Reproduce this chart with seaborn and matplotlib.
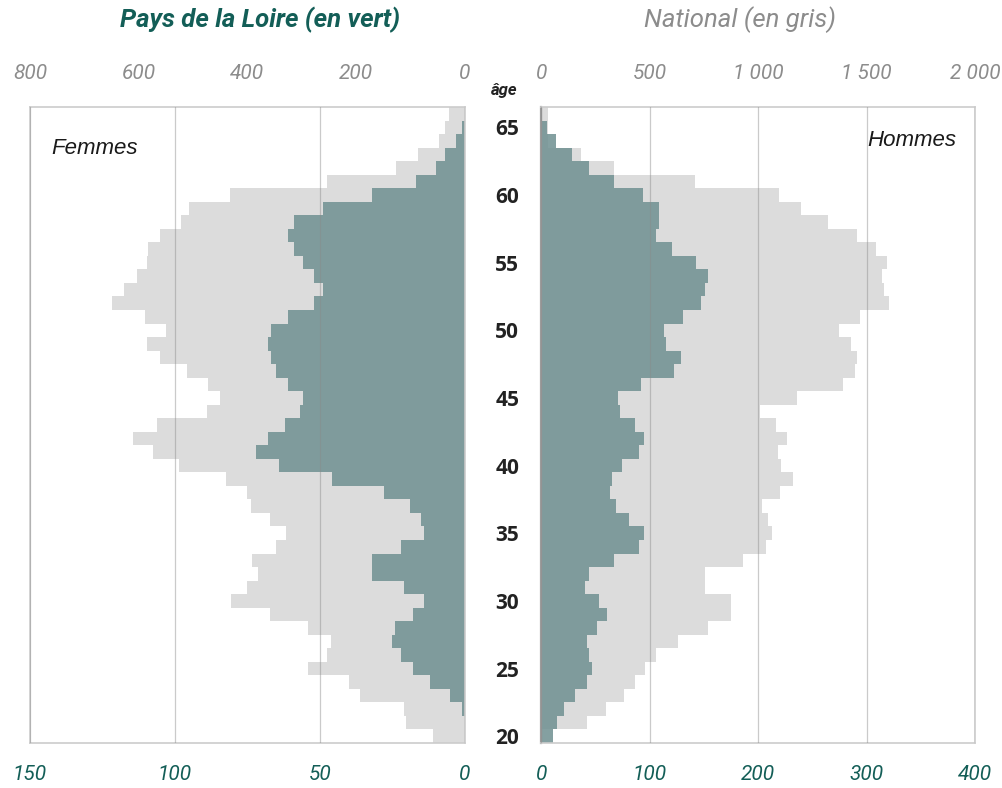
import matplotlib
matplotlib.use("Agg")
import matplotlib.pyplot as plt
import seaborn as sns

# ages 20 -> 66, one bar per age
ages = list(range(20, 67))

# Pays de la Loire (green, bottom scale)
pdl_femmes = [0, 0, 1, 5, 12, 18, 22, 25, 24, 18,
              14, 21, 32, 32, 22, 14, 15, 19, 28, 46,
              64, 72, 68, 62, 57, 56, 61, 65, 67, 68,
              67, 61, 52, 49, 52, 56, 59, 61, 59, 49,
              32, 17, 10, 7, 3, 1, 0]
pdl_hommes = [11, 14, 21, 31, 42, 47, 44, 42, 51, 60,
              53, 40, 44, 67, 90, 95, 81, 69, 63, 65,
              74, 90, 95, 86, 72, 71, 92, 122, 129, 115,
              113, 131, 147, 151, 154, 143, 120, 106, 108, 108,
              94, 67, 44, 28, 13, 5, 0]

# National (grey, top scale)
nat_femmes = [58, 108, 112, 193, 214, 288, 253, 246, 288, 359,
              430, 401, 380, 391, 348, 330, 359, 394, 401, 440,
              525, 574, 610, 567, 475, 451, 472, 511, 561, 585,
              550, 589, 649, 627, 603, 585, 582, 561, 522, 508,
              433, 253, 126, 86, 47, 37, 29]
nat_hommes = [0, 209, 299, 379, 433, 477, 530, 628, 770, 876,
              876, 753, 753, 930, 1036, 1064, 1046, 1018, 1100, 1161,
              1107, 1090, 1133, 1081, 1006, 1178, 1392, 1445, 1455, 1428,
              1374, 1471, 1605, 1579, 1571, 1595, 1543, 1455, 1321, 1197,
              1098, 708, 334, 182, 30, 30, 31]

pdl_ticks_f = [0, 50, 100, 150]
nat_ticks_f = [0, 200, 400, 600, 800]
pdl_ticks_h = [0, 100, 200, 300, 400]
nat_ticks_h = [0, 500, 1000, 1500, 2000]
nat_labels_h = ["0", "500", "1 000", "1 500", "2 000"]
age_ticks = [20, 25, 30, 35, 40, 45, 50, 55, 60, 65]

GREEN = "#6f9091"
GREY = "#dcdcdc"
TEAL_TEXT = "#135e57"
GREY_TEXT = "#8c8c8c"
NARROW = ["Liberation Sans Narrow", "DejaVu Sans Condensed", "Roboto",
          "DejaVu Sans"]

sns.set_theme(style="white")
plt.rcParams["font.family"] = ["Liberation Sans", "DejaVu Sans"]


def draw_panel(ax, pdl, nat, pdl_ticks, nat_ticks, nat_labels, flip):
    top = ax.twiny()
    sns.barplot(x=nat, y=ages, orient="y", native_scale=True, width=1.0,
                color=GREY, saturation=1, linewidth=0, errorbar=None, ax=top)
    sns.barplot(x=pdl, y=ages, orient="y", native_scale=True, width=1.0,
                color=GREEN, saturation=1, alpha=0.85, linewidth=0,
                errorbar=None, ax=ax)
    ax.set_zorder(top.get_zorder() + 1)
    ax.patch.set_visible(False)

    if flip:
        ax.set_xlim(pdl_ticks[-1], 0)
        top.set_xlim(nat_ticks[-1], 0)
    else:
        ax.set_xlim(0, pdl_ticks[-1])
        top.set_xlim(0, nat_ticks[-1])
    ax.set_ylim(19.5, 66.5)

    ax.set_xticks(pdl_ticks)
    ax.set_xticklabels([str(t) for t in pdl_ticks], color=TEAL_TEXT,
                       fontsize=15, fontstyle="italic", family=NARROW)
    top.set_xticks(nat_ticks)
    top.set_xticklabels(nat_labels, color=GREY_TEXT, fontsize=15,
                        fontstyle="italic", family=NARROW)
    ax.tick_params(axis="x", length=0, pad=16)
    top.tick_params(axis="x", length=0, pad=17)
    ax.set_xlabel("")
    ax.set_ylabel("")
    top.set_xlabel("")

    ax.xaxis.grid(True, color="#8a8a8a", alpha=0.45, linewidth=0.9)
    ax.set_axisbelow(False)

    for s in top.spines.values():
        s.set_visible(False)
    for s in ax.spines.values():
        s.set_color("#cccccc")
        s.set_linewidth(1.2)
    return top


fig = plt.figure(figsize=(10.02, 7.88), dpi=100)
ax_f = fig.add_axes([0.0299, 0.0571, 0.4341, 0.8071])
ax_h = fig.add_axes([0.5404, 0.0571, 0.4326, 0.8071])

draw_panel(ax_f, pdl_femmes, nat_femmes, pdl_ticks_f, nat_ticks_f,
           [str(t) for t in nat_ticks_f], flip=True)
draw_panel(ax_h, pdl_hommes, nat_hommes, pdl_ticks_h, nat_ticks_h,
           nat_labels_h, flip=False)

ax_f.tick_params(axis="y", left=False, labelleft=False)
ax_h.set_yticks(age_ticks)
ax_h.set_yticklabels([str(a) for a in age_ticks], fontsize=15,
                     fontweight="bold", color="#222222",
                     family=["Open Sans", "DejaVu Sans"])
ax_h.tick_params(axis="y", length=0, pad=16)
ax_h.spines["left"].set_color("#9c9c9c")
ax_h.spines["left"].set_linewidth(1.6)

ax_f.text(0.05, 0.935, "Femmes", transform=ax_f.transAxes, fontsize=16,
          fontstyle="italic", color="#1a1a1a", ha="left", va="center")
ax_h.text(0.957, 0.947, "Hommes", transform=ax_h.transAxes, fontsize=16,
          fontstyle="italic", color="#1a1a1a", ha="right", va="center")

fig.text(260 / 1002, 1 - 20 / 788, "Pays de la Loire (en vert)",
         fontsize=18.5, fontweight="bold", fontstyle="italic",
         color=TEAL_TEXT, family=NARROW, ha="center", va="center")
fig.text(740 / 1002, 1 - 20 / 788, "National (en gris)", fontsize=18.5,
         fontstyle="italic", color=GREY_TEXT, family=NARROW,
         ha="center", va="center")
fig.text(504 / 1002, 1 - 90 / 788, "âge", fontsize=12, fontweight="bold",
         fontstyle="italic", color="#222222", family=NARROW,
         ha="center", va="center")

fig.savefig("out.png", dpi=100)
